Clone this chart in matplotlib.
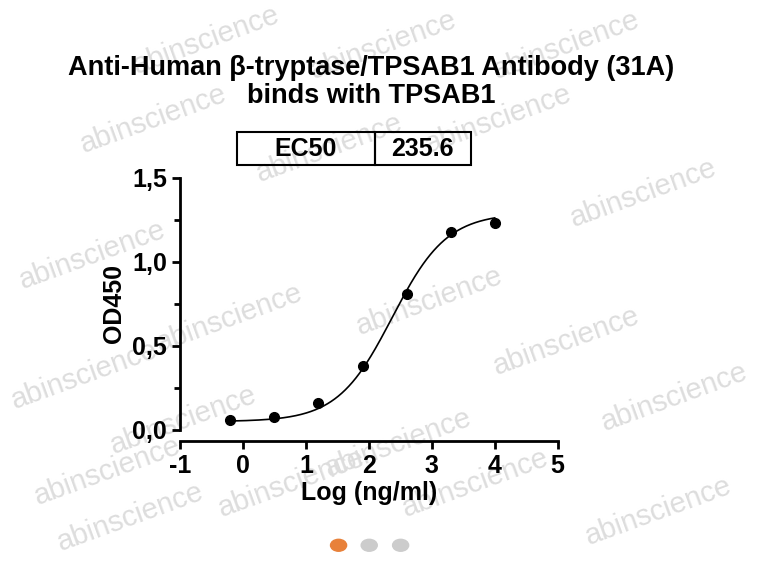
import numpy as np
import matplotlib.pyplot as plt

# data
log_conc = [-0.2, 0.5, 1.2, 1.9, 2.6, 3.3, 4.0]
od450 = [0.06, 0.08, 0.16, 0.38, 0.81, 1.18, 1.23]
x_ticks = [-1, 0, 1, 2, 3, 4, 5]
x_labels = ['-1', '0', '1', '2', '3', '4', '5']
y_ticks = [0, 0.5, 1.0, 1.5]
y_labels = ['0,0', '0,5', '1,0', '1,5']

# 4PL fit parameters
bottom, top, log_ec50, hill = 0.05, 1.29, np.log10(235.6), 1.0

fig = plt.figure(figsize=(7.66, 5.68), dpi=100)
plt.rcParams['font.family'] = ['Liberation Sans', 'DejaVu Sans']

# watermarks (light, behind everything, kept inside the canvas)
wm = [(0.27, 0.93), (0.50, 0.92), (0.74, 0.92), (0.20, 0.79), (0.43, 0.74),
      (0.65, 0.79), (0.84, 0.66), (0.12, 0.55), (0.30, 0.44), (0.56, 0.47),
      (0.74, 0.40), (0.11, 0.34), (0.24, 0.26), (0.52, 0.22), (0.88, 0.30),
      (0.14, 0.17), (0.38, 0.15), (0.62, 0.15), (0.86, 0.10), (0.17, 0.09)]
for x, y in wm:
    fig.text(x, y, 'abinscience', fontsize=21, color='#dddddd', rotation=20,
             ha='center', va='center', zorder=-5)

fig.text(0.485, 0.855, 'Anti-Human β-tryptase/TPSAB1 Antibody (31A)\nbinds with TPSAB1',
         ha='center', va='center', fontsize=19.5, fontweight='bold',
         linespacing=1.1, zorder=5)

ax = fig.add_axes([0.235, 0.243, 0.493, 0.444], zorder=2)
xs = np.linspace(-0.2, 4.0, 300)
ys = bottom + (top - bottom) / (1 + 10 ** ((log_ec50 - xs) * hill))
ax.plot(xs, ys, color='black', lw=1.2)
ax.plot(log_conc, od450, 'o', color='black', ms=7)

ax.set_xlim(-1, 5)
ax.set_ylim(0, 1.5)
ax.set_xticks(x_ticks)
ax.set_xticklabels(x_labels)
ax.set_yticks(y_ticks)
ax.set_yticks([0.25, 0.75, 1.25], minor=True)
ax.set_yticklabels(y_labels)
for s in ['top', 'right']:
    ax.spines[s].set_visible(False)
for s in ['left', 'bottom']:
    ax.spines[s].set_linewidth(2)
ax.spines['bottom'].set_position(('outward', 8))
ax.tick_params(width=2, length=6, labelsize=18)
ax.tick_params(which='minor', width=2, length=4)
for lab in ax.get_xticklabels() + ax.get_yticklabels():
    lab.set_fontweight('bold')
ax.set_xlabel('Log (ng/ml)', fontsize=18, fontweight='bold', labelpad=2)
ax.set_ylabel('OD450', fontsize=18, fontweight='bold', labelpad=4)
ax.patch.set_alpha(0)

# EC50 table
tab = ax.table(cellText=[['EC50', '235.6']], cellLoc='center',
               bbox=[0.15, 1.05, 0.62, 0.13], colWidths=[0.59, 0.41])
tab.auto_set_font_size(False)
for cell in tab.get_celld().values():
    cell.set_linewidth(1.5)
    cell.set_facecolor('none')
    cell.get_text().set_fontsize(18)
    cell.get_text().set_fontweight('bold')

# carousel dots
for x, c in [(0.442, '#e8813a'), (0.482, '#cccccc'), (0.523, '#cccccc')]:
    fig.patches.append(plt.Circle((x, 0.04), 0.0105, transform=fig.transFigure,
                                  color=c, figure=fig))

fig.savefig('out.png', dpi=100)
